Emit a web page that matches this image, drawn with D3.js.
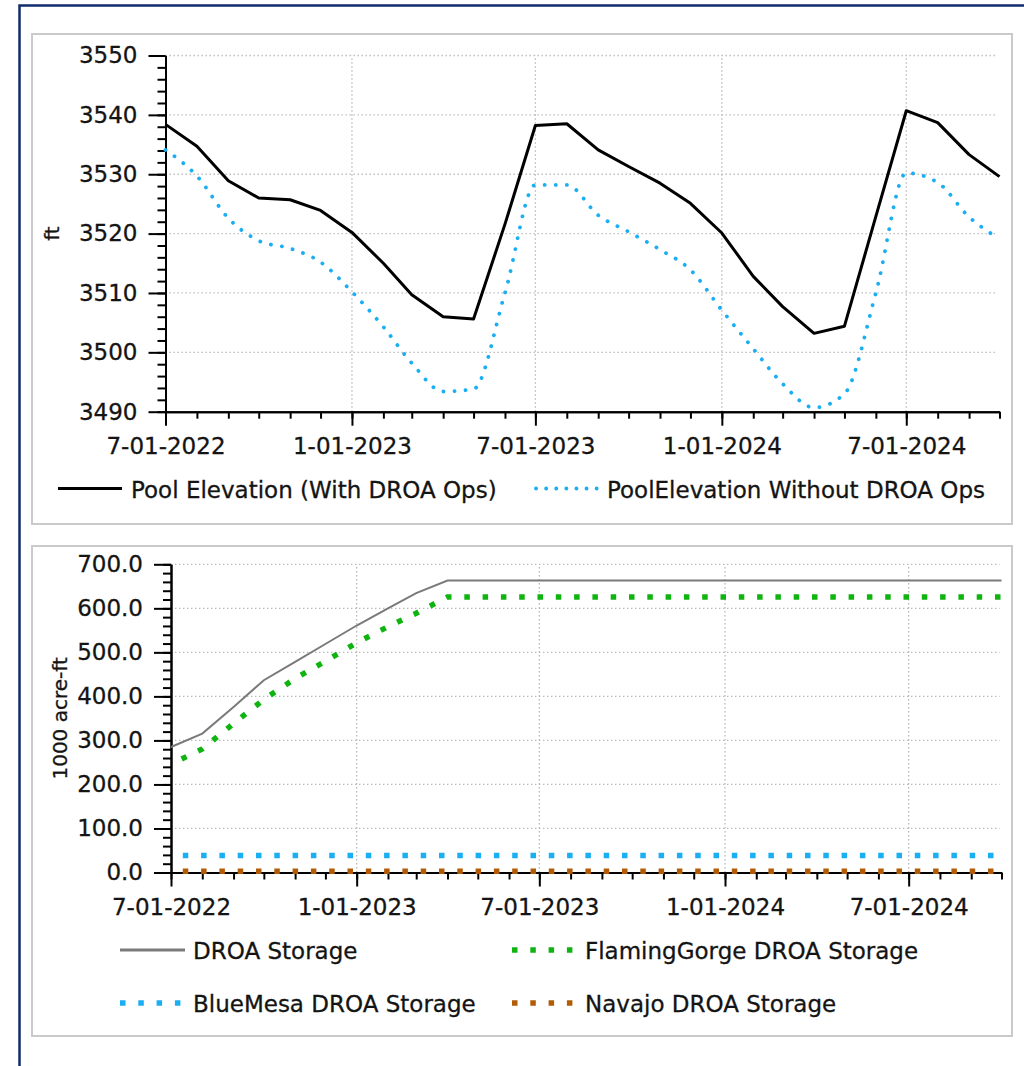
<!DOCTYPE html>
<html>
<head>
<meta charset="utf-8">
<script src="https://cdn.jsdelivr.net/npm/d3@7"></script>
<style>
  html, body { margin: 0; padding: 0; background: #fff; }
  svg { display: block; }
  text { font-family: "DejaVu Sans", Verdana, sans-serif; }
</style>
</head>
<body>
<svg id="chart" width="1024" height="1066"></svg>
<script>
// Monthly time steps (first of each month)
const dates = [
  "2022-07-01","2022-08-01","2022-09-01","2022-10-01","2022-11-01","2022-12-01",
  "2023-01-01","2023-02-01","2023-03-01","2023-04-01","2023-05-01","2023-06-01",
  "2023-07-01","2023-08-01","2023-09-01","2023-10-01","2023-11-01","2023-12-01",
  "2024-01-01","2024-02-01","2024-03-01","2024-04-01","2024-05-01","2024-06-01",
  "2024-07-01","2024-08-01","2024-09-01","2024-10-01"
];

// Pool elevation, ft
const poolWithDroa = [
  3538.4, 3534.7, 3528.9, 3526.0, 3525.7, 3523.9,
  3520.2, 3515.0, 3509.7, 3506.0, 3505.6, 3521.6,
  3538.2, 3538.5, 3534.1, 3531.3, 3528.5, 3525.1,
  3520.1, 3512.8, 3507.7, 3503.2, 3504.4, 3522.9,
  3540.7, 3538.7, 3533.3, 3529.6
];
const poolWithoutDroa = [
  3534.1, 3529.7, 3522.6, 3518.8, 3517.5, 3515.2,
  3510.2, 3504.3, 3498.2, 3493.4, 3493.8, 3510.0,
  3528.2, 3528.2, 3523.1, 3520.3, 3517.3, 3513.9,
  3507.1, 3500.6, 3494.7, 3490.7, 3493.0, 3510.0,
  3530.2, 3528.6, 3522.8, 3519.1
];

// DROA storage, 1000 acre-ft
const droaStorage = [
  285.0, 315.5, 376.0, 436.7, 478.6, 519.0,
  561.0, 599.8, 634.6, 663.3, 663.3, 663.3,
  663.3, 663.3, 663.3, 663.3, 663.3, 663.3,
  663.3, 663.3, 663.3, 663.3, 663.3, 663.3,
  663.3, 663.3, 663.3, 663.3
];
const flamingGorgeStorage = [
  246.0, 280.5, 338.4, 393.0, 440.6, 480.0,
  521.8, 558.3, 588.7, 626.0, 626.0, 626.0,
  626.0, 626.0, 626.0, 626.0, 626.0, 626.0,
  626.0, 626.0, 626.0, 626.0, 626.0, 626.0,
  626.0, 626.0, 626.0, 626.0
];
const blueMesaStorage = [
  38.5, 38.5, 38.5, 38.5, 38.5, 38.5, 38.5, 38.5, 38.5, 38.5, 38.5, 38.5, 38.5, 38.5,
  38.5, 38.5, 38.5, 38.5, 38.5, 38.5, 38.5, 38.5, 38.5, 38.5, 38.5, 38.5, 38.5, 38.5
];
const navajoStorage = [
  3.0, 3.0, 3.0, 3.0, 3.0, 3.0, 3.0, 3.0, 3.0, 3.0, 3.0, 3.0, 3.0, 3.0,
  3.0, 3.0, 3.0, 3.0, 3.0, 3.0, 3.0, 3.0, 3.0, 3.0, 3.0, 3.0, 3.0, 3.0
];

// Axis ticks
const dateTicks = ["2022-07-01","2023-01-01","2023-07-01","2024-01-01","2024-07-01"];
const elevTicks = [3490, 3500, 3510, 3520, 3530, 3540, 3550];
const storageTicks = [0, 100, 200, 300, 400, 500, 600, 700];

const FONT = '"DejaVu Sans", Verdana, sans-serif';
const FS = 23;
const INK = "#141414";
const GRID = "#b9b9b9";
const BLUE = "#1aaef2";
const GREEN = "#10b410";
const BROWN = "#b35c06";

const parse = d3.timeParse("%Y-%m-%d");
const fmtDate = d3.timeFormat("%-m-%d-%Y");
const t = dates.map(parse);
const tTicks = dateTicks.map(parse);
const monthTicks = d3.timeMonth.range(t[0], d3.timeDay.offset(t[t.length - 1], 1));

const svg = d3.select("#chart");

// Window frame (left and top edges)
svg.append("path")
  .attr("d", "M19.5,1066V5.5H1024")
  .attr("fill", "none").attr("stroke", "#0f2c6c").attr("stroke-width", 2.5);

// Panel boxes
[[34, 490], [546, 490]].forEach(([y0, h]) => {
  svg.append("rect")
    .attr("x", 32).attr("y", y0).attr("width", 980).attr("height", h)
    .attr("fill", "#fff").attr("stroke", "#cacaca").attr("stroke-width", 2);
});

// slightly heavier glyphs
function ink(sel) {
  return sel.attr("fill", INK).attr("stroke", INK).attr("stroke-width", 0.3);
}

function drawFrame(g, x, y, yTicks, yMinor, yFmt, yTitle, titleX) {
  const [x0, x1] = x.range();
  const [yb, yt] = y.range();

  // dotted grid
  const grid = g.append("g").attr("stroke", GRID).attr("stroke-width", 1.3)
    .attr("stroke-dasharray", "1.4,2.6");
  yTicks.slice(1).forEach(v => {
    grid.append("line").attr("x1", x0).attr("x2", x1 - 2).attr("y1", y(v)).attr("y2", y(v));
  });
  tTicks.slice(1).forEach(d => {
    grid.append("line").attr("x1", x(d)).attr("x2", x(d)).attr("y1", yb).attr("y2", yt);
  });

  // x axis: monthly minor ticks + labelled major ticks
  const xMinor = g.append("g").attr("transform", `translate(0,${yb})`)
    .call(d3.axisBottom(x).tickValues(monthTicks).tickSize(7).tickSizeOuter(0).tickFormat(""));
  const xMajor = g.append("g").attr("transform", `translate(0,${yb})`)
    .call(d3.axisBottom(x).tickValues(tTicks).tickSize(14).tickSizeOuter(0)
      .tickPadding(12).tickFormat(fmtDate));

  // y axis
  const yMin = g.append("g").attr("transform", `translate(${x0},0)`)
    .call(d3.axisLeft(y).tickValues(yMinor).tickSize(8).tickSizeOuter(0).tickFormat(""));
  const yMaj = g.append("g").attr("transform", `translate(${x0},0)`)
    .call(d3.axisLeft(y).tickValues(yTicks).tickSize(17).tickSizeOuter(0)
      .tickPadding(11).tickFormat(yFmt));

  [xMinor, xMajor, yMin, yMaj].forEach(a => {
    a.attr("color", "#000").attr("font-size", FS).attr("font-family", FONT);
    a.selectAll("line").attr("stroke-width", 2);
    a.select(".domain").attr("stroke-width", 2);
    ink(a.selectAll("text"));
  });

  // axis title
  ink(g.append("text")
    .attr("transform", `translate(${titleX},${(yb + yt) / 2}) rotate(-90)`)
    .attr("text-anchor", "middle").attr("font-size", 20)
    .text(yTitle));
}

/* ---------- Pool elevation panel ---------- */
const xTop = d3.scaleTime().domain([t[0], t[t.length - 1]]).range([165.5, 999.5]);
const yTop = d3.scaleLinear().domain([3490, 3550]).range([411.7, 55.5]);
const gTop = svg.append("g");
drawFrame(gTop, xTop, yTop, elevTicks, d3.range(3490, 3551, 2), d3.format("d"), "ft", 59);

const lineTop = d3.line().x((d, i) => xTop(t[i])).y(d => yTop(d));
gTop.append("path").datum(poolWithoutDroa)
  .attr("d", lineTop.curve(d3.curveMonotoneX))
  .attr("fill", "none").attr("stroke", BLUE).attr("stroke-width", 3.8)
  .attr("stroke-linecap", "round").attr("stroke-dasharray", "0.1,11");
gTop.append("path").datum(poolWithDroa)
  .attr("d", d3.line().x((d, i) => xTop(t[i])).y(d => yTop(d)))
  .attr("fill", "none").attr("stroke", "#000").attr("stroke-width", 3)
  .attr("stroke-linejoin", "round");

// legend
const legTop = svg.append("g");
legTop.append("line").attr("x1", 58).attr("x2", 122).attr("y1", 488.5).attr("y2", 488.5)
  .attr("stroke", "#000").attr("stroke-width", 3);
ink(legTop.append("text").attr("x", 131).attr("y", 498).attr("font-size", FS))
  .text("Pool Elevation (With DROA Ops)");
legTop.append("line").attr("x1", 536).attr("x2", 600).attr("y1", 488.5).attr("y2", 488.5)
  .attr("stroke", BLUE).attr("stroke-width", 3.8).attr("stroke-linecap", "round")
  .attr("stroke-dasharray", "0.1,10");
ink(legTop.append("text").attr("x", 607).attr("y", 498).attr("font-size", FS))
  .text("PoolElevation Without DROA Ops");

/* ---------- DROA storage panel ---------- */
const xBot = d3.scaleTime().domain([t[0], t[t.length - 1]]).range([171, 1001.5]);
const yBot = d3.scaleLinear().domain([0, 700]).range([872.5, 564.3]);
const gBot = svg.append("g");
drawFrame(gBot, xBot, yBot, storageTicks, d3.range(0, 701, 20), d3.format(".1f"), "1000 acre-ft", 67);

const lineBot = d3.line().x((d, i) => xBot(t[i])).y(d => yBot(d));
const squares = { "stroke-width": 5.5, "stroke-dasharray": "5.5,12.8", "stroke-dashoffset": 6.5 };
[[navajoStorage, BROWN], [blueMesaStorage, BLUE], [flamingGorgeStorage, GREEN]].forEach(([vals, col]) => {
  const p = gBot.append("path").datum(vals).attr("d", lineBot)
    .attr("fill", "none").attr("stroke", col);
  Object.entries(squares).forEach(([k, v]) => p.attr(k, v));
});
gBot.append("path").datum(droaStorage).attr("d", lineBot)
  .attr("fill", "none").attr("stroke", "#7a7a7a").attr("stroke-width", 2);

// legend
const legBot = svg.append("g");
function legendEntry(x, y, label, style) {
  const l = legBot.append("line").attr("x1", x).attr("x2", x + 62).attr("y1", y).attr("y2", y);
  Object.entries(style).forEach(([k, v]) => l.attr(k, v));
  ink(legBot.append("text").attr("x", x + 73).attr("y", y + 8.5).attr("font-size", FS))
    .text(label);
}
const sq = col => ({ stroke: col, "stroke-width": 5.5, "stroke-dasharray": "5.5,12.8" });
legendEntry(120, 950, "DROA Storage", { stroke: "#7a7a7a", "stroke-width": 3, x2: 185 });
legendEntry(512, 950, "FlamingGorge DROA Storage", sq(GREEN));
legendEntry(120, 1003, "BlueMesa DROA Storage", sq(BLUE));
legendEntry(512, 1003, "Navajo DROA Storage", sq(BROWN));
</script>
</body>
</html>
